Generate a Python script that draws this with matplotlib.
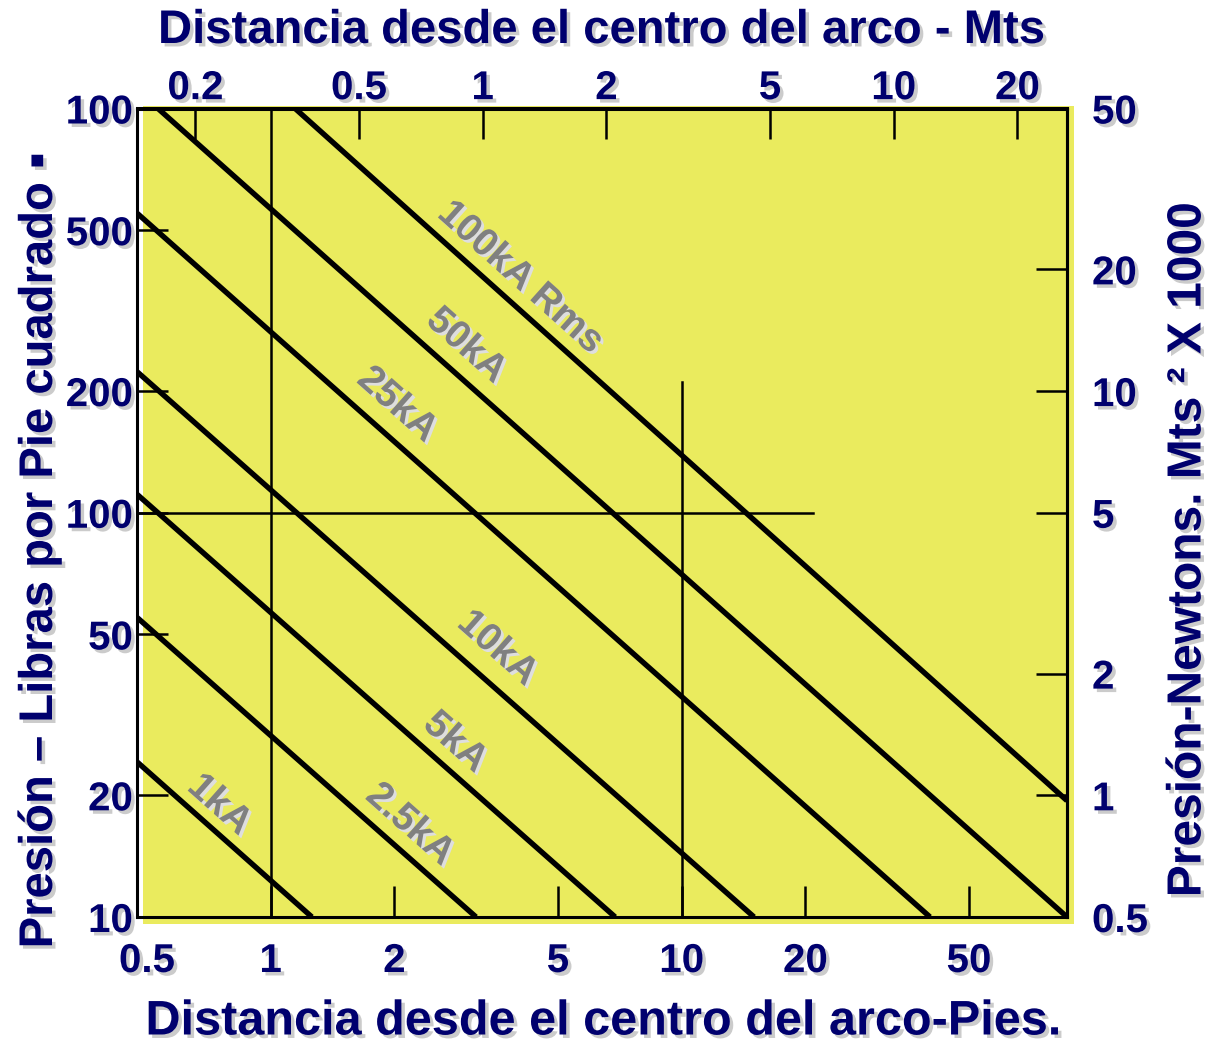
import math
import matplotlib
matplotlib.use('Agg')
import matplotlib.pyplot as plt
import matplotlib.patheffects as pe
from matplotlib.patches import Rectangle
from matplotlib.ticker import NullLocator

plt.rcParams['font.family'] = ['Liberation Sans', 'DejaVu Sans']
plt.rcParams['font.weight'] = 'bold'

NAVY = '#00006E'
GREY = '#808080'
YELLOW = '#EAEB5E'

# ---------------- data ----------------
currents = ['1kA', '2.5kA', '5kA', '10kA', '25kA', '50kA', '100kA Rms']
d_start = [0.473, 0.473, 0.473, 0.473, 0.473, 0.532, 1.147]     # ft
p_start = [24.2, 55.1, 111.1, 223.4, 551.0, 1000.0, 1000.0]     # lb/ft2
d_end = [1.26, 3.16, 6.89, 15.0, 40.2, 86.6, 86.6]
p_end = [10.0, 10.0, 10.0, 10.0, 10.0, 10.0, 19.4]
label_d = [0.75, 2.18, 2.81, 3.56, 2.03, 2.99, 4.05]
label_p = [18.9, 16.9, 27.0, 46.1, 184.7, 258.6, 381.0]

ft_ticks = [0.5, 1, 2, 5, 10, 20, 50]
ft_labels = ['0.5', '1', '2', '5', '10', '20', '50']
m_ticks = [0.2, 0.5, 1, 2, 5, 10, 20]
m_labels = ['0.2', '0.5', '1', '2', '5', '10', '20']
psf_ticks = [10, 20, 50, 100, 200, 500, 1000]
psf_labels = ['10', '20', '50', '100', '200', '500', '100']
kn_ticks = [0.5, 1, 2, 5, 10, 20, 50]
kn_labels = ['0.5', '1', '2', '5', '10', '20', '50']

# guide lines
vguide_x = [1, 10]
vguide_top = [1000, 210]
hguide_y = 100
hguide_xend = 20.9

x_range = (0.473, 86.6)
y_range = (10, 1000)

# ---------------- figure ----------------
W, H = 1211, 1046
fig = plt.figure(figsize=(W / 100, H / 100), dpi=100)

fig.add_artist(Rectangle((143 / W, 1 - 924 / H), 931 / W, (924 - 106) / H,
                         transform=fig.transFigure, facecolor=YELLOW,
                         edgecolor='none', zorder=-5))

ax = fig.add_axes([137 / W, (H - 917) / H, 930 / W, (917 - 108.5) / H])
ax.patch.set_alpha(0)
ax.set_xscale('log')
ax.set_yscale('log')
ax.set_xlim(*x_range)
ax.set_ylim(*y_range)

for s in ax.spines.values():
    s.set_linewidth(2.2)
    s.set_color('black')

shadow_navy = [pe.withSimplePatchShadow(offset=(2.5, -2.5), shadow_rgbFace='#8c8c8c', alpha=0.45)]
shadow_grey = [pe.withSimplePatchShadow(offset=(2, -2), shadow_rgbFace='#dedede', alpha=1.0)]

# guide lines
for gx, gt in zip(vguide_x, vguide_top):
    ax.plot([gx, gx], [y_range[0], gt], color='black', lw=1.8, zorder=2)
ax.plot([x_range[0], hguide_xend], [hguide_y, hguide_y], color='black', lw=1.8, zorder=2)

# current lines
fig.canvas.draw()
for name, d0, p0, d1, p1, ld, lp in zip(currents, d_start, p_start, d_end, p_end, label_d, label_p):
    ax.plot([d0, d1], [p0, p1], color='black', lw=3.9, solid_capstyle='butt', zorder=3)
    a = ax.transData.transform((d0, p0))
    b = ax.transData.transform((d1, p1))
    ang = math.degrees(math.atan2(b[1] - a[1], b[0] - a[0]))
    ax.text(ld, lp, name, rotation=ang, rotation_mode='anchor', ha='center', va='center',
            color=GREY, fontsize=28, fontweight='bold', path_effects=shadow_grey, zorder=4)

TICK_FS = 29

# bottom axis (feet)
ax.set_xticks(ft_ticks, labels=ft_labels)
ax.xaxis.set_minor_locator(NullLocator())
ax.tick_params(axis='x', which='major', direction='in', length=22, width=1.8,
               colors='black', labelcolor=NAVY, labelsize=TICK_FS, pad=18)
ax.xaxis.get_major_ticks()[0].tick1line.set_visible(False)

# left axis (lb/ft2)
ax.set_yticks(psf_ticks, labels=psf_labels)
ax.yaxis.set_minor_locator(NullLocator())
ax.tick_params(axis='y', which='major', direction='in', length=22, width=1.8,
               colors='black', labelcolor=NAVY, labelsize=TICK_FS, pad=3)

for lab in ax.get_xticklabels() + ax.get_yticklabels():
    lab.set_fontweight('bold')
    lab.set_path_effects(shadow_navy)

# top axis (metres)
top = ax.secondary_xaxis('top', functions=(lambda x: x / 3.28, lambda m: m * 3.28))
top.set_xticks(m_ticks, labels=m_labels)
top.xaxis.set_minor_locator(NullLocator())
top.tick_params(axis='x', which='major', direction='in', length=22, width=1.8,
                colors='black', labelcolor=NAVY, labelsize=TICK_FS, pad=1)
top.spines['top'].set_linewidth(2.2)
for lab in top.get_xticklabels():
    lab.set_fontweight('bold')
    lab.set_path_effects(shadow_navy)

# right axis (kN/m2)
right = ax.secondary_yaxis('right', functions=(lambda p: p * 0.05, lambda k: k / 0.05))
right.set_yticks(kn_ticks, labels=kn_labels)
right.yaxis.set_minor_locator(NullLocator())
right.tick_params(axis='y', which='major', direction='in', length=22, width=1.8,
                  colors='black', labelcolor=NAVY, labelsize=TICK_FS, pad=18)
right.spines['right'].set_linewidth(2.2)
for lab in right.get_yticklabels():
    lab.set_fontweight('bold')
    lab.set_path_effects(shadow_navy)

# titles
fig.text(602 / W, 1 - 31 / H, 'Distancia desde el centro del arco - Mts', ha='center', va='center',
         color=NAVY, fontsize=34, fontweight='bold', path_effects=shadow_navy)
fig.text(603 / W, 1 - 1022 / H, 'Distancia desde el centro del arco-Pies.', ha='center', va='center',
         color=NAVY, fontsize=35, fontweight='bold', path_effects=shadow_navy)
fig.text(40 / W, 1 - 550 / H, 'Presión – Libras por Pie cuadrado \u25AA', ha='center', va='center',
         rotation=90, color=NAVY, fontsize=34, fontweight='bold', path_effects=shadow_navy)
fig.text(1188 / W, 1 - 550 / H, 'Presión-Newtons. Mts \u00B2 X 1000', ha='center', va='center',
         rotation=90, color=NAVY, fontsize=34.5, fontweight='bold', path_effects=shadow_navy)

fig.savefig('out.png', dpi=100, facecolor='white')
